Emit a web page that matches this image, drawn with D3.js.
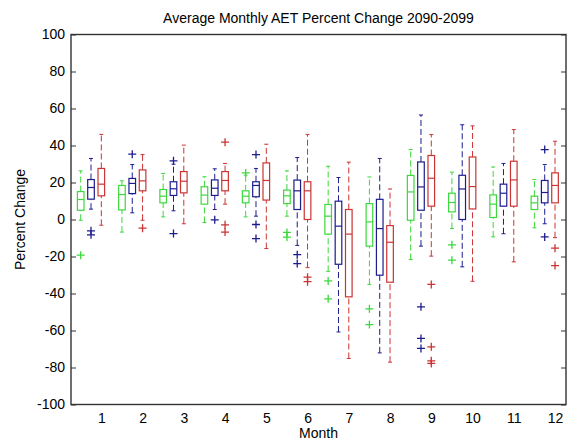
<!DOCTYPE html>
<html>
<head>
<meta charset="utf-8">
<script src="https://cdn.jsdelivr.net/npm/d3@7/dist/d3.min.js"></script>
<style>
	body { margin: 0; background: #fff; }
	text { font-family: "Liberation Sans", Arial, sans-serif; fill: #000; }
</style>
</head>
<body>
<div id="chart"></div>
<script>
// months on the x axis
var months = [1, 2, 3, 4, 5, 6, 7, 8, 9, 10, 11, 12]
var yTicks = [-100, -80, -60, -40, -20, 0, 20, 40, 60, 80, 100]

// [whisker low, q1, median, q3, whisker high] per month
var greenBox = [
	[-0.4, 5, 10.8, 15.1, 26.3],
	[-6.8, 5.2, 13.5, 18.4, 20.9],
	[1.4, 9, 12.6, 16.2, 24.9],
	[-1.6, 8.3, 13.2, 17.7, 23.1],
	[1.4, 9, 12.6, 15.5, 24],
	[1.8, 8.6, 12.8, 15.9, 26.3],
	[-28, -7.9, 1.8, 8.1, 28.8],
	[-35.1, -14.4, -1.3, 8.6, 23],
	[-21.6, -0.4, 14.9, 23.8, 37.8],
	[-4.9, 4.1, 9.2, 14.2, 25.6],
	[-9.4, 1.1, 8.3, 13.3, 28.4],
	[-4.5, 5.4, 9, 12.6, 21.6]
]
var greenOut = [[-19.3], [], [], [], [25.2], [-7, -9.5], [-33.2, -42.9], [-48.3, -56.8], [], [-13.7, -22], [], []]

var blueBox = [
	[5.6, 11, 17.3, 21.6, 33],
	[3.6, 14, 19.5, 22.2, 29.7],
	[4.7, 13, 16.6, 20.4, 29.9],
	[5.4, 13, 16.9, 21.4, 27.4],
	[1.8, 12.3, 18.4, 20.4, 27.6],
	[-14, 5.4, 15.5, 21.3, 33.5],
	[-60.8, -24.2, -3.6, 9.9, 22.7],
	[-72.1, -30.1, -4.9, 10.9, 33],
	[-14.4, 5, 17.6, 31.1, 56.5],
	[-25.6, 0, 16.5, 23.9, 51.2],
	[-7.7, 7.2, 14.2, 19.1, 30.3],
	[-2.3, 9, 14.6, 21.1, 29.7]
]
var blueOut = [[-6.1, -8.3], [35.3], [31.7, -7.6], [-0.2], [35.1, -2.7, -10.3], [-19, -23.8], [], [], [-47.2, -64.3, -69.7], [], [], [37.8, -9.4]]

var redBox = [
	[-3.1, 12.8, 19.1, 27.6, 46],
	[-0.4, 15.5, 20.9, 26.8, 35.1],
	[-2.3, 14.4, 20.7, 25.9, 40.2],
	[8.3, 15.5, 21.1, 25.9, 30.3],
	[-15.7, 10.5, 21.1, 30.6, 40.7],
	[-26, 0, 15.5, 20.4, 46],
	[-75.1, -41.8, -7.9, 5.4, 31],
	[-77.1, -33.9, -12.3, -3.3, 16.5],
	[-19.8, 7.2, 22.3, 34.6, 45.9],
	[-33.4, 5.7, 17.8, 33.8, 50.6],
	[-22.9, 7.2, 21.4, 31.5, 48.6],
	[-9.8, 9, 18.4, 25.2, 42.3]
]
var redOut = [[], [-4.7], [], [41.8, -2.9, -6.8], [], [-31.2, -33.6], [], [], [-35.1, -68.8, -76.4, -77.8], [], [], [-15.5, -24.9]]

var series = [
	{ box: greenBox, out: greenOut, color: '#3cd83c', offset: -0.5 },
	{ box: blueBox, out: blueOut, color: '#1c1c8e', offset: -0.25 },
	{ box: redBox, out: redOut, color: '#cc3333', offset: 0 }
]

var width = 578,
	height = 444
var plotL = 71, plotR = 566, plotT = 34.5, plotB = 404.5

var svg = d3.select('#chart').append('svg')
	.attr('width', width)
	.attr('height', height)

var x = d3.scaleLinear()
	.domain([0.265, 12.266])
	.range([plotL, plotR])

var y = d3.scaleLinear()
	.domain([-100, 100])
	.range([plotB, plotT])

var boxW = 6.6, capW = 4, plusR = 4

// y axis, ticks pointing inward, mirrored on the right
var yAxis = d3.axisLeft(y).tickValues(yTicks).tickSize(-5).tickPadding(6)
	.tickFormat(function (d) { return String(d) })
svg.append('g').attr('transform', 'translate(' + plotL + ',0)').call(yAxis)
svg.append('g').attr('transform', 'translate(' + plotR + ',0)')
	.call(d3.axisRight(y).tickValues(yTicks).tickSize(-5).tickFormat(''))

var xAxis = d3.axisBottom(x).tickValues(months).tickSize(0).tickPadding(9)
	.tickFormat(function (d) { return String(d) })
svg.append('g').attr('transform', 'translate(0,' + plotB + ')').call(xAxis)

svg.selectAll('.domain').remove()
svg.selectAll('.tick line').attr('stroke', '#333')
svg.selectAll('.tick text').attr('font-size', 14).attr('fill', '#000')
	.style('font-family', '"Liberation Sans", Arial, sans-serif')

svg.append('rect')
	.attr('x', plotL).attr('y', plotT)
	.attr('width', plotR - plotL).attr('height', plotB - plotT)
	.attr('fill', 'none').attr('stroke', '#333').attr('stroke-width', 1.4)

// boxes
series.forEach(function (s) {
	var g = svg.append('g')
	var rows = s.box.map(function (b, i) {
		return { m: months[i], lo: b[0], q1: b[1], med: b[2], q3: b[3], hi: b[4] }
	})
	var cx = function (d) { return x(d.m + s.offset) }

	// dashed whiskers
	g.selectAll('.wlo').data(rows).enter().append('line')
		.attr('x1', cx).attr('x2', cx)
		.attr('y1', function (d) { return y(d.lo) })
		.attr('y2', function (d) { return y(d.q1) })
		.attr('stroke', s.color).attr('stroke-dasharray', '6,3')
	g.selectAll('.whi').data(rows).enter().append('line')
		.attr('x1', cx).attr('x2', cx)
		.attr('y1', function (d) { return y(d.q3) })
		.attr('y2', function (d) { return y(d.hi) })
		.attr('stroke', s.color).attr('stroke-dasharray', '6,3')

	// whisker caps
	;['lo', 'hi'].forEach(function (k) {
		g.selectAll('.cap-' + k).data(rows).enter().append('line')
			.attr('x1', function (d) { return cx(d) - capW / 2 })
			.attr('x2', function (d) { return cx(d) + capW / 2 })
			.attr('y1', function (d) { return y(d[k]) })
			.attr('y2', function (d) { return y(d[k]) })
			.attr('stroke', s.color)
	})

	g.selectAll('rect').data(rows).enter().append('rect')
		.attr('x', function (d) { return cx(d) - boxW / 2 })
		.attr('y', function (d) { return y(d.q3) })
		.attr('width', boxW)
		.attr('height', function (d) { return y(d.q1) - y(d.q3) })
		.attr('fill', '#fff')
		.attr('stroke', s.color).attr('stroke-width', 1.2)

	g.selectAll('.med').data(rows).enter().append('line')
		.attr('x1', function (d) { return cx(d) - boxW / 2 })
		.attr('x2', function (d) { return cx(d) + boxW / 2 })
		.attr('y1', function (d) { return y(d.med) })
		.attr('y2', function (d) { return y(d.med) })
		.attr('stroke', s.color).attr('stroke-width', 1.2)

	// outliers as + marks
	var pts = []
	s.out.forEach(function (list, i) {
		list.forEach(function (v) { pts.push({ m: months[i], v: v }) })
	})
	g.selectAll('.out').data(pts).enter().append('path')
		.attr('d', function (d) {
			var px = cx(d), py = y(d.v)
			return 'M' + (px - plusR) + ',' + py + 'H' + (px + plusR) +
				'M' + px + ',' + (py - plusR) + 'V' + (py + plusR)
		})
		.attr('stroke', s.color).attr('stroke-width', 1.3).attr('fill', 'none')
})

// labels
svg.append('text')
	.attr('x', (plotL + plotR) / 2).attr('y', 23)
	.attr('text-anchor', 'middle').attr('font-size', 14)
	.text('Average Monthly AET Percent Change 2090-2099')

svg.append('text')
	.attr('x', (plotL + plotR) / 2).attr('y', 438)
	.attr('text-anchor', 'middle').attr('font-size', 14)
	.text('Month')

svg.append('text')
	.attr('transform', 'translate(25,' + (plotT + plotB) / 2 + ') rotate(-90)')
	.attr('text-anchor', 'middle').attr('font-size', 14)
	.text('Percent Change')
</script>
</body>
</html>
